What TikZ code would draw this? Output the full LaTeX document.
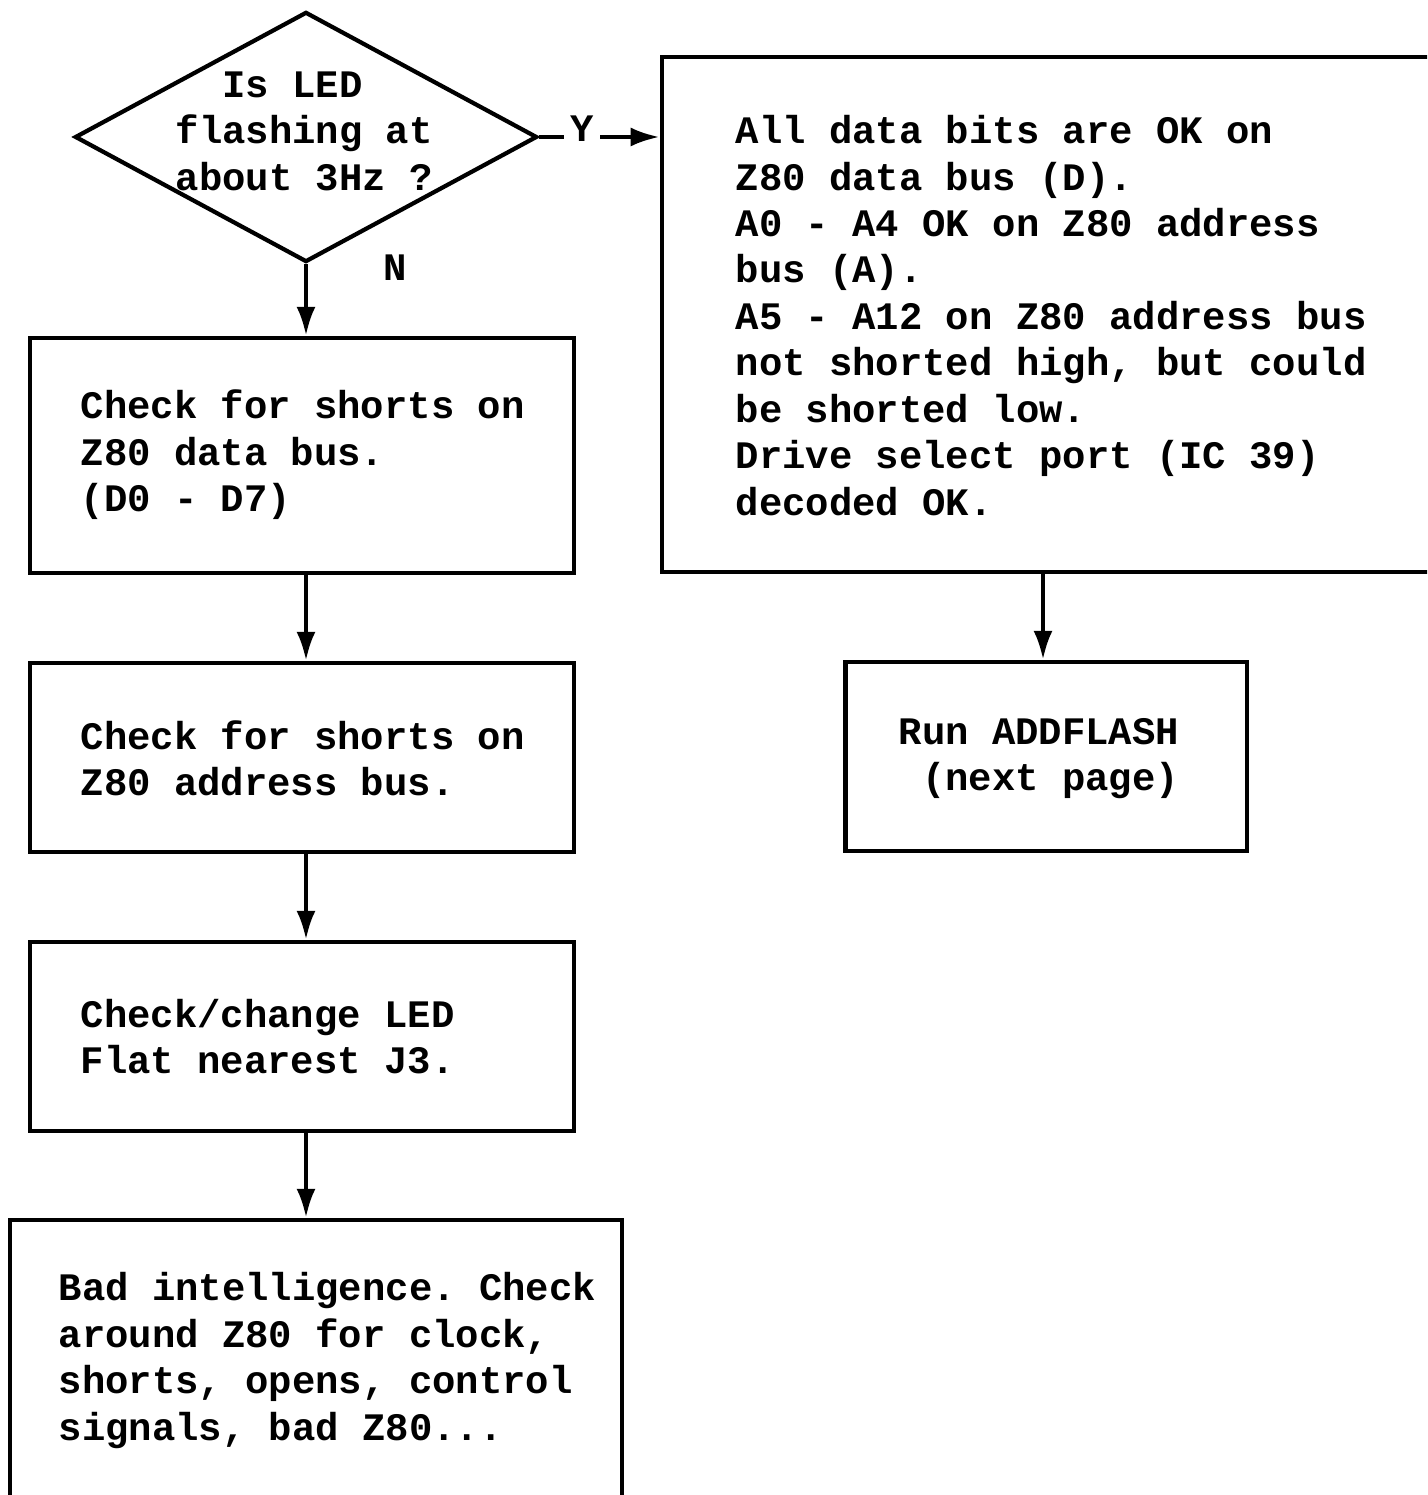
\documentclass[tikz,border=0pt]{standalone}
\usepackage{fontspec}
\setmonofont{Liberation Mono}
\usetikzlibrary{arrows.meta,shapes.geometric}
\tikzset{
  box/.style={draw, line width=1.2pt, rectangle, inner sep=0pt},
  txt/.style={font=\ttfamily\bfseries\fontsize{11.07pt}{13.2pt}\selectfont, align=left, inner sep=0pt, anchor=west},
  lab/.style={font=\ttfamily\bfseries\fontsize{11.07pt}{13.2pt}\selectfont, inner sep=0pt},
  conn/.style={line width=1.2pt, -{Latex[length=2.9mm,width=1.9mm]}}
}
\begin{document}
\begin{tikzpicture}[x=0.01cm,y=-0.01cm]
\useasboundingbox (0,0) rectangle (1427,1495);
\fill[white] (0,0) rectangle (1427,1495);
\clip (0,0) rectangle (1427,1495);
% decision
\node[diamond, draw, line width=1.2pt, minimum width=4.62cm, minimum height=2.5cm, inner sep=0pt] (dia) at (306,137) {};
\node[txt] (diat) at (175,131) {\hspace*{1.2em}Is LED\\flashing at\\about 3Hz ?};
% left column
\node[box, minimum width=5.44cm, minimum height=2.35cm] (b1) at (302,455.5) {};
\node[txt] (b1t) at (80,455) {Check for shorts on\\Z80 data bus.\\(D0 - D7)};
\node[box, minimum width=5.44cm, minimum height=1.89cm] (b2) at (302,757.5) {};
\node[txt] (b2t) at (80,758.5) {Check for shorts on\\Z80 address bus.};
\node[box, minimum width=5.43cm, minimum height=1.89cm] (b3) at (302,1036.5) {};
\node[txt] (b3t) at (80,1036.5) {Check/change LED\\Flat nearest J3.};
\node[box, minimum width=6.12cm, minimum height=2.81cm] (b4) at (316,1360.5) {};
\node[txt] (b4t) at (58,1360.5) {Bad intelligence. Check\\around Z80 for clock,\\shorts, opens, control\\signals, bad Z80...};
% right column
\node[box, minimum width=7.8cm, minimum height=5.15cm] (rb) at (1052,314.5) {};
\node[txt] (rbt) at (735,315.5) {All data bits are OK on\\Z80 data bus (D).\\A0 - A4 OK on Z80 address\\bus (A).\\A5 - A12 on Z80 address bus\\not shorted high, but could\\be shorted low.\\Drive select port (IC 39)\\decoded OK.};
\node[box, minimum width=4.01cm, minimum height=1.89cm] (run) at (1046,756.5) {};
\node[txt] (runt) at (898,758.5) {Run ADDFLASH\\\hspace*{0.6em}(next page)};
% connectors
\draw[conn] (dia.south) -- (dia.south |- b1.north);
\draw[conn] (dia.south |- b1.south) -- (dia.south |- b2.north);
\draw[conn] (dia.south |- b2.south) -- (dia.south |- b3.north);
\draw[conn] (dia.south |- b3.south) -- (dia.south |- b4.north);
\draw[conn] (dia.east) -- (dia.east -| rb.west);
\draw[conn] ([xshift=-0.03cm]run.north |- rb.south) -- ([xshift=-0.03cm]run.north);
% labels
\node[lab, fill=white, inner xsep=1.8pt, inner ysep=2pt] (ylab) at (582,129) {Y};
\node[lab] (nlab) at (395,268) {N};
\end{tikzpicture}
\end{document}
